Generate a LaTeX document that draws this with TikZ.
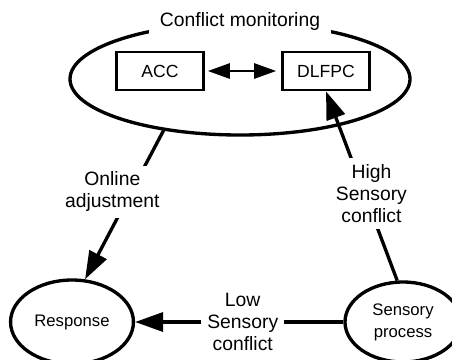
\documentclass[tikz,border=0pt]{standalone}
\usepackage{fontspec}
\setmainfont{Liberation Sans}
\usetikzlibrary{arrows.meta,shapes.geometric}

\begin{document}
\begin{tikzpicture}[boxstyle/.style={draw, line width=1.5pt, minimum width=1.74cm, minimum height=0.76cm, font=\fontsize{10}{12}\selectfont},
  ovalstyle/.style={draw, ellipse, line width=1.9pt, align=center, font=\fontsize{9.5}{12.5}\selectfont},
  labelstyle/.style={fill=white, align=center, inner sep=0.12cm, font=\fontsize{11}{12.5}\selectfont},
  bigarrow/.style={line width=1.9pt, -{Triangle[length=0.56cm,width=0.38cm]}}]
  \useasboundingbox (0,0) rectangle (9.04,-7.18);

  \node [ovalstyle, minimum width=6.8cm, minimum height=2.24cm] (Monitor) at (4.8,-1.58) {};
  \node [labelstyle, inner xsep=0.22cm] (MonitorLabel) at (Monitor.north) {Conflict monitoring};
  \node [boxstyle] (ACC) at (3.2,-1.42) {ACC};
  \node [boxstyle] (DLFPC) at (6.52,-1.42) {DLFPC};
  \draw [line width=1.5pt, {Triangle[length=0.44cm,width=0.3cm]}-{Triangle[length=0.44cm,width=0.3cm]}, shorten <=0.06cm, shorten >=0.1cm] (ACC) -- (DLFPC);

  \node [ovalstyle, minimum width=2.28cm, minimum height=1.68cm] (Response) at (1.44,-6.44) {Response};
  \node [ovalstyle, minimum width=2.32cm, minimum height=1.6cm] (Sensory) at (8.06,-6.44) {Sensory\\process};

  \draw [bigarrow] (Monitor.214) -- node [labelstyle, pos=0.41, xshift=-0.38cm] {Online\\adjustment} (Response.73);
  \draw [bigarrow] (Sensory.98) -- node [labelstyle, pos=0.46, xshift=0.14cm] {High\\Sensory\\conflict} (DLFPC.south);
  \draw [bigarrow] (Sensory) -- node [labelstyle, xshift=0.07cm] {Low\\Sensory\\conflict} (Response);
\end{tikzpicture}
\end{document}
